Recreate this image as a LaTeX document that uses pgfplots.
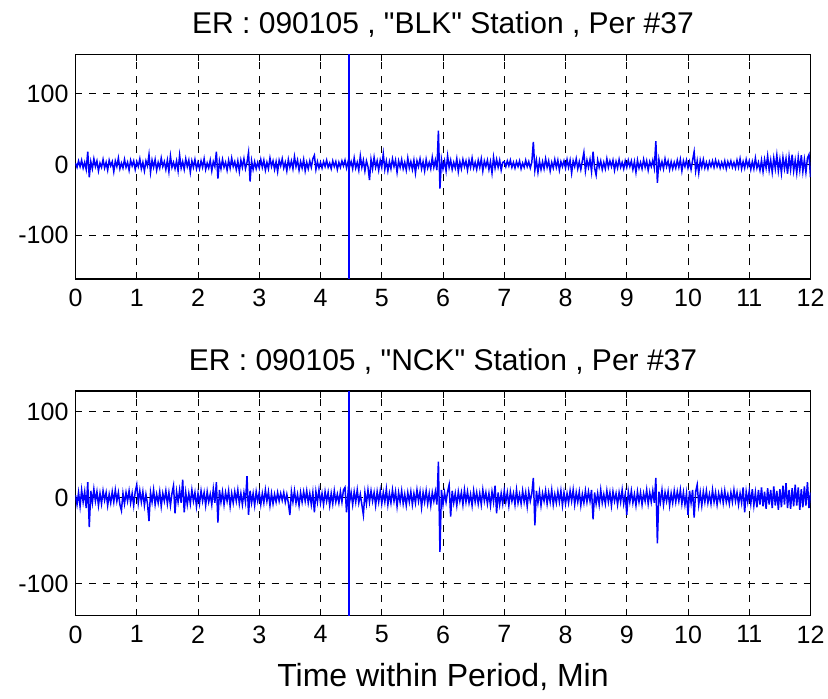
\documentclass[border=0pt]{standalone}
\usepackage{fontspec}
\setmainfont{Liberation Sans}
\newfontfamily\plainsans{Liberation Sans}
\usepackage{pgfplots}
\usepackage{pgfplotstable}
\pgfplotsset{compat=1.18}

% samples every 0.025 min
\pgfplotstableread[row sep=\\,header=false]{
2\\-4\\5\\-3\\6\\-5\\3\\-7\\18\\-18\\4\\-6\\8\\-3\\5\\-9\\2\\-4\\7\\-5\\3\\-8\\6\\-2\\4\\-10\\5\\-3\\9\\-6\\2\\-5\\7\\-4\\3\\-8\\6\\-2\\5\\-7\\
4\\-3\\8\\-6\\3\\-9\\5\\-2\\14\\-11\\6\\-4\\7\\-8\\3\\-5\\9\\-3\\4\\-7\\6\\-10\\12\\-4\\3\\-6\\5\\-9\\13\\-5\\4\\-7\\8\\-3\\6\\-11\\5\\-4\\7\\-6\\
3\\-6\\5\\-4\\8\\-7\\2\\-5\\6\\-9\\4\\-3\\18\\-20\\5\\-6\\7\\-4\\3\\-8\\6\\-5\\9\\-3\\4\\-7\\5\\-10\\6\\-4\\8\\-6\\3\\17\\-24\\5\\-7\\4\\-6\\3\\
-5\\7\\-4\\6\\-8\\3\\-6\\9\\-3\\5\\-7\\4\\-10\\6\\-2\\8\\-5\\3\\-9\\7\\-4\\5\\-6\\11\\-3\\6\\-8\\4\\-5\\7\\-9\\3\\-6\\5\\-4\\8\\13\\-7\\4\\-5\\
3\\-5\\4\\-3\\6\\-4\\2\\-6\\5\\-3\\4\\-7\\3\\-4\\5\\-2\\6\\-5\\4\\-3\\4\\-6\\9\\-5\\3\\-8\\12\\-4\\6\\-9\\5\\-3\\-22\\7\\-6\\10\\-4\\5\\-8\\6\\
-4\\15\\-7\\5\\-9\\4\\-6\\8\\-3\\6\\-11\\5\\-4\\7\\-6\\3\\-8\\9\\-5\\4\\-7\\6\\-12\\5\\-3\\8\\-6\\4\\-9\\7\\-5\\3\\-6\\10\\-4\\6\\-8\\48\\-34\\7\\
-6\\5\\-9\\12\\-4\\6\\-7\\3\\-5\\8\\-10\\4\\-6\\7\\-3\\5\\-8\\6\\-4\\9\\-5\\3\\-7\\6\\-4\\8\\-9\\5\\-3\\6\\-7\\4\\-12\\10\\-5\\7\\-4\\6\\-8\\3\\
4\\-3\\5\\-2\\6\\-4\\3\\-5\\4\\-3\\5\\-6\\2\\-4\\6\\-3\\4\\-5\\3\\32\\-8\\6\\-11\\5\\-7\\4\\-6\\8\\-4\\5\\-9\\3\\-5\\7\\-4\\6\\-8\\4\\-3\\5\\
-5\\7\\-4\\6\\-12\\5\\-3\\8\\-6\\4\\-7\\5\\17\\-9\\6\\-4\\7\\-10\\18\\-5\\-15\\6\\-4\\5\\-7\\3\\-6\\8\\-4\\5\\-3\\6\\-8\\4\\-5\\7\\-4\\3\\-6\\5\\
-4\\6\\-3\\5\\-7\\4\\-11\\6\\-5\\3\\-6\\7\\-4\\5\\-8\\4\\-3\\6\\-5\\33\\-26\\7\\-5\\4\\-6\\8\\-3\\5\\-7\\4\\-6\\3\\-5\\6\\-4\\7\\-9\\5\\-3\\6\\
-5\\4\\-7\\6\\18\\-9\\5\\-12\\6\\-4\\7\\-5\\3\\-6\\4\\-3\\5\\-4\\6\\-3\\4\\-5\\3\\-4\\5\\-6\\4\\-3\\5\\-4\\3\\-5\\6\\-4\\8\\-6\\4\\-5\\7\\-3\\
5\\-7\\4\\-6\\9\\-5\\3\\-8\\6\\-10\\7\\-5\\12\\-8\\6\\-11\\9\\-6\\13\\-9\\7\\-12\\10\\-6\\8\\-13\\11\\-7\\14\\-9\\6\\-12\\10\\-8\\13\\-10\\7\\-11\\9\\14\\
-18\\
}\blkdata

\pgfplotstableread[row sep=\\,header=false]{
3\\-8\\6\\-10\\9\\-5\\7\\-12\\18\\-34\\8\\-6\\10\\-4\\7\\-9\\5\\-7\\8\\-3\\6\\-9\\4\\-6\\7\\-5\\9\\-4\\6\\-8\\-15\\5\\-7\\6\\-4\\8\\-6\\5\\-9\\7\\
15\\-6\\8\\-5\\7\\-9\\4\\-7\\-27\\6\\-5\\9\\-8\\4\\-6\\7\\-10\\5\\-4\\8\\-7\\6\\-9\\5\\14\\-18\\7\\-5\\9\\-6\\21\\-17\\6\\-8\\5\\-7\\9\\-4\\6\\-10\\
5\\-7\\8\\-4\\6\\-9\\7\\-5\\4\\-8\\10\\-6\\18\\-29\\9\\-5\\7\\-8\\6\\-4\\8\\-10\\5\\-6\\7\\-4\\9\\-7\\5\\-8\\6\\-5\\25\\-20\\8\\-6\\5\\-9\\7\\-4\\
6\\-8\\5\\-6\\9\\-4\\7\\-9\\5\\-7\\4\\-5\\6\\-4\\5\\-3\\6\\-5\\4\\-6\\-20\\7\\-5\\8\\-6\\4\\-9\\6\\-5\\7\\-4\\8\\-6\\5\\-8\\6\\-17\\7\\-5\\9\\
-6\\5\\-8\\7\\-4\\6\\-9\\5\\-7\\8\\-5\\4\\-6\\7\\-5\\9\\12\\-17\\6\\-5\\6\\-8\\7\\-5\\9\\-6\\4\\-8\\-20\\6\\-7\\9\\-5\\8\\-4\\6\\-9\\7\\-5\\8\\
-7\\6\\-5\\10\\-8\\5\\-6\\9\\-4\\7\\-10\\6\\-5\\8\\-7\\4\\-9\\6\\-5\\7\\-8\\5\\-6\\9\\-4\\7\\-11\\6\\-5\\8\\-7\\5\\-9\\6\\-4\\7\\-8\\42\\-63\\9\\
-8\\6\\-5\\7\\15\\-22\\8\\-6\\5\\-9\\7\\-4\\6\\-8\\9\\-5\\7\\-6\\4\\-9\\8\\-5\\6\\-7\\5\\-8\\9\\-4\\6\\-7\\5\\-9\\7\\-5\\14\\-18\\6\\-8\\5\\-7\\
8\\-5\\6\\-9\\7\\-4\\5\\-8\\9\\-6\\4\\-7\\8\\-5\\6\\-10\\7\\-4\\5\\23\\-32\\8\\-6\\7\\-9\\5\\-4\\8\\-7\\6\\-5\\9\\-8\\4\\-6\\7\\-5\\8\\-9\\6\\
-7\\5\\-6\\8\\-4\\9\\-8\\6\\-5\\7\\-9\\4\\-6\\8\\-5\\7\\-4\\9\\-25\\6\\-7\\5\\-8\\9\\-6\\4\\-7\\8\\-5\\6\\-9\\7\\-4\\5\\-8\\6\\-5\\9\\-7\\4\\
-20\\7\\-5\\8\\-6\\4\\-9\\7\\-5\\6\\-8\\5\\-4\\9\\-7\\6\\-5\\8\\-6\\23\\-53\\7\\-5\\9\\-8\\6\\-4\\7\\-9\\5\\-6\\8\\-5\\7\\-4\\9\\-7\\6\\-8\\5\\
-20\\8\\-6\\9\\-23\\7\\15\\-8\\6\\-9\\7\\-5\\8\\-6\\4\\-7\\9\\-5\\6\\-8\\5\\-4\\7\\-6\\8\\-5\\4\\-7\\6\\-5\\9\\-4\\6\\-8\\5\\-6\\12\\-17\\7\\-5\\
8\\-7\\10\\-9\\6\\-11\\9\\-8\\12\\-10\\7\\-13\\11\\-8\\9\\-12\\13\\-9\\8\\-14\\10\\-11\\14\\-8\\17\\-12\\9\\-13\\11\\-10\\15\\-9\\12\\-14\\10\\-11\\13\\-9\\18\\-12\\
6\\
}\nckdata

\pgfplotsset{
  mlab/.style={
    scale only axis,
    width=367.5pt, height=112.4pt,
    xmin=0, xmax=12,
    xtick={0,...,12},
    ytick={-100,0,100},
    yticklabels={-100,0,100},
    tick align=inside,
    major tick length=3.5pt,
    tick style={black, line width=0.4pt},
    axis line style={black, line width=0.6pt},
    grid=major,
    major grid style={black, line width=0.4pt, dash pattern=on 3.5pt off 3.5pt},
    tick label style={font=\fontsize{12.5}{15}\selectfont},
    xticklabel style={yshift=-1.5pt},
    /pgf/number format/assume math mode=true,
    title style={font=\plainsans\fontsize{15}{18}\selectfont, yshift=-1pt},
  },
  sig/.style={blue, line width=0.75pt},
  spike/.style={blue, line width=1pt},
}

\begin{document}
\begin{tikzpicture}
\useasboundingbox (-37.75pt,-209.5pt) rectangle (376.25pt,139.5pt);

\begin{axis}[mlab,
  at={(0pt,0pt)}, anchor=south west,
  ymin=-162, ymax=156,
  title={ER : 090105 , "BLK" Station , Per \#37},
]
\addplot[sig] table[x expr=\coordindex*0.025, y index=0] {\blkdata};
\addplot[spike] coordinates {(4.46,156) (4.46,-162)};
\end{axis}

\begin{axis}[mlab,
  at={(0pt,-168.35pt)}, anchor=south west,
  ymin=-137, ymax=124,
  title={ER : 090105 , "NCK" Station , Per \#37},
  xlabel={Time within Period, Min},
  xlabel style={font=\fontsize{16}{19}\selectfont, yshift=-3pt},
]
\addplot[sig] table[x expr=\coordindex*0.025, y index=0] {\nckdata};
\addplot[spike] coordinates {(4.46,124) (4.46,-137)};
\end{axis}
\end{tikzpicture}
\end{document}
